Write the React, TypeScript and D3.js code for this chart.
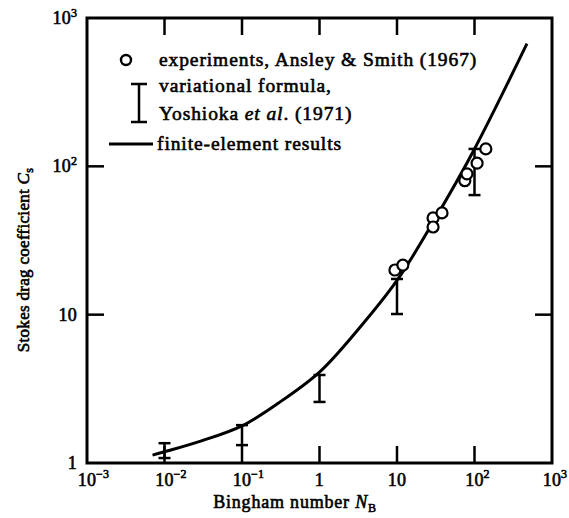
import { useEffect, useRef } from "react";
import * as d3 from "d3";

// finite-element curve
const curveX = [0.007, 0.01, 0.03, 0.1, 0.3, 1, 3, 10, 30, 100, 475];
const curveY = [1.13, 1.19, 1.41, 1.78, 2.55, 4.1, 7.7, 17, 43, 131, 672];

// experiments, Ansley & Smith
const expX = [9.4, 11.9, 29.2, 38.1, 29.2, 75, 80, 108, 140];
const expY = [20, 21.6, 44.9, 48.5, 39, 80, 89, 105, 131];

// variational formula bars
const errX = [0.01, 0.1, 1, 10, 100];
const errLo = [1.08, 1.32, 2.58, 10.1, 64];
const errHi = [1.36, 1.8, 3.92, 17.4, 131];

const xTicks = [1e-3, 1e-2, 1e-1, 1, 10, 1e2, 1e3];
const xTickBase = ["10", "10", "10", "1", "10", "10", "10"];
const xTickExp = ["−3", "−2", "−1", "", "", "2", "3"];
const yTicks = [1, 10, 1e2, 1e3];
const yTickBase = ["1", "10", "10", "10"];
const yTickExp = ["", "", "2", "3"];

const FONT = "'Liberation Serif', 'Times New Roman', serif";

export default function App() {
  const ref = useRef<SVGSVGElement>(null);

  useEffect(() => {
    if (!ref.current) return;
    const svg = d3.select(ref.current);
    svg.selectAll("*").remove();

    const left = 87, right = 552, top = 18, bottom = 463;
    const x = d3.scaleLog().domain([1e-3, 1e3]).range([left, right]);
    const y = d3.scaleLog().domain([1, 1e3]).range([bottom, top]);
    const tickLen = 17;

    const g = svg.append("g");

    // frame
    g.append("rect")
      .attr("x", left).attr("y", top)
      .attr("width", right - left).attr("height", bottom - top)
      .attr("fill", "none").attr("stroke", "#000").attr("stroke-width", 3);

    // inner ticks
    xTicks.slice(1, -1).forEach((v) => {
      g.append("line").attr("x1", x(v)).attr("x2", x(v)).attr("y1", top).attr("y2", top + tickLen)
        .attr("stroke", "#000").attr("stroke-width", 2.5);
      g.append("line").attr("x1", x(v)).attr("x2", x(v)).attr("y1", bottom).attr("y2", bottom - tickLen)
        .attr("stroke", "#000").attr("stroke-width", 2.5);
    });
    yTicks.slice(1, -1).forEach((v) => {
      g.append("line").attr("x1", left).attr("x2", left + tickLen).attr("y1", y(v)).attr("y2", y(v))
        .attr("stroke", "#000").attr("stroke-width", 2.5);
      g.append("line").attr("x1", right).attr("x2", right - tickLen).attr("y1", y(v)).attr("y2", y(v))
        .attr("stroke", "#000").attr("stroke-width", 2.5);
    });

    const txt = (sel: d3.Selection<SVGTextElement, unknown, null, undefined>, size = 19.5, ls = 0.9) =>
      sel.attr("font-family", FONT).attr("font-size", size).attr("fill", "#000")
        .attr("letter-spacing", ls)
        .attr("stroke", "#000").attr("stroke-width", 0.6);

    // x tick labels: "10" centred on the tick, exponent to the right
    xTicks.forEach((v, i) => {
      const t = g.append("text").attr("x", x(v)).attr("y", bottom + 23).attr("text-anchor", "middle");
      txt(t, 18, 0.3);
      t.text(xTickBase[i]);
      if (xTickExp[i]) {
        const e = g.append("text").attr("x", x(v) + 9).attr("y", bottom + 15);
        txt(e, 12, 0.3);
        e.text(xTickExp[i]);
      }
    });

    // y tick labels
    yTicks.forEach((v, i) => {
      const hasExp = !!yTickExp[i];
      const t = g.append("text").attr("x", left - (hasExp ? 16 : 10)).attr("y", y(v) + 6)
        .attr("text-anchor", "end");
      txt(t, 18, 0.3);
      t.text(yTickBase[i]);
      if (hasExp) {
        const e = g.append("text").attr("x", left - 16).attr("y", y(v) - 1);
        txt(e, 12, 0);
        e.text(yTickExp[i]);
      }
    });

    // axis titles
    const xt = g.append("text").attr("x", 295).attr("y", 508).attr("text-anchor", "middle");
    txt(xt, 18, 0.8);
    xt.append("tspan").text("Bingham number ");
    xt.append("tspan").attr("font-style", "italic").text("N");
    xt.append("tspan").attr("dy", 4).attr("font-size", 12).text("B");

    const yt = g.append("text")
      .attr("transform", `translate(29,260) rotate(-90)`)
      .attr("text-anchor", "middle");
    txt(yt, 17, 0.3);
    yt.append("tspan").text("Stokes drag coefficient ");
    yt.append("tspan").attr("font-style", "italic").text("C");
    yt.append("tspan").attr("dy", 4).attr("font-size", 12).text("s");

    // curve
    const line = d3.line<number>()
      .x((_, i) => x(curveX[i]))
      .y((d) => y(d))
      .curve(d3.curveCatmullRom.alpha(0.5));
    g.append("path").attr("d", line(curveY))
      .attr("fill", "none").attr("stroke", "#000").attr("stroke-width", 3);

    // error bars
    const cap = 6;
    errX.forEach((v, i) => {
      const cx = x(v);
      g.append("line").attr("x1", cx).attr("x2", cx).attr("y1", y(errLo[i])).attr("y2", y(errHi[i]))
        .attr("stroke", "#000").attr("stroke-width", 2.5);
      [errLo[i], errHi[i]].forEach((e) => {
        g.append("line").attr("x1", cx - cap).attr("x2", cx + cap).attr("y1", y(e)).attr("y2", y(e))
          .attr("stroke", "#000").attr("stroke-width", 2.5);
      });
    });

    // experiments
    expX.forEach((v, i) => {
      g.append("circle").attr("cx", x(v)).attr("cy", y(expY[i])).attr("r", 5.5)
        .attr("fill", "#fff").attr("stroke", "#000").attr("stroke-width", 2.2);
    });

    // legend
    const lg = g.append("g");
    lg.append("circle").attr("cx", 126).attr("cy", 60).attr("r", 5)
      .attr("fill", "#fff").attr("stroke", "#000").attr("stroke-width", 2.4);
    txt(lg.append("text").attr("x", 159).attr("y", 66)).text("experiments, Ansley & Smith (1967)");

    lg.append("line").attr("x1", 139).attr("x2", 139).attr("y1", 84).attr("y2", 122)
      .attr("stroke", "#000").attr("stroke-width", 2.5);
    [84, 122].forEach((yy) => {
      lg.append("line").attr("x1", 131).attr("x2", 147).attr("y1", yy).attr("y2", yy)
        .attr("stroke", "#000").attr("stroke-width", 2.5);
    });
    txt(lg.append("text").attr("x", 159).attr("y", 92)).text("variational formula,");
    const yo = lg.append("text").attr("x", 159).attr("y", 120);
    txt(yo);
    yo.append("tspan").text("Yoshioka ");
    yo.append("tspan").attr("font-style", "italic").text("et al");
    yo.append("tspan").text(". (1971)");

    lg.append("line").attr("x1", 109).attr("x2", 153).attr("y1", 144).attr("y2", 144)
      .attr("stroke", "#000").attr("stroke-width", 3);
    txt(lg.append("text").attr("x", 157).attr("y", 150)).text("finite-element results");
  }, []);

  return (
    <svg
      ref={ref}
      width={569}
      height={518}
      style={{ position: "absolute", left: 0, top: 0, background: "#fff" }}
    />
  );
}
